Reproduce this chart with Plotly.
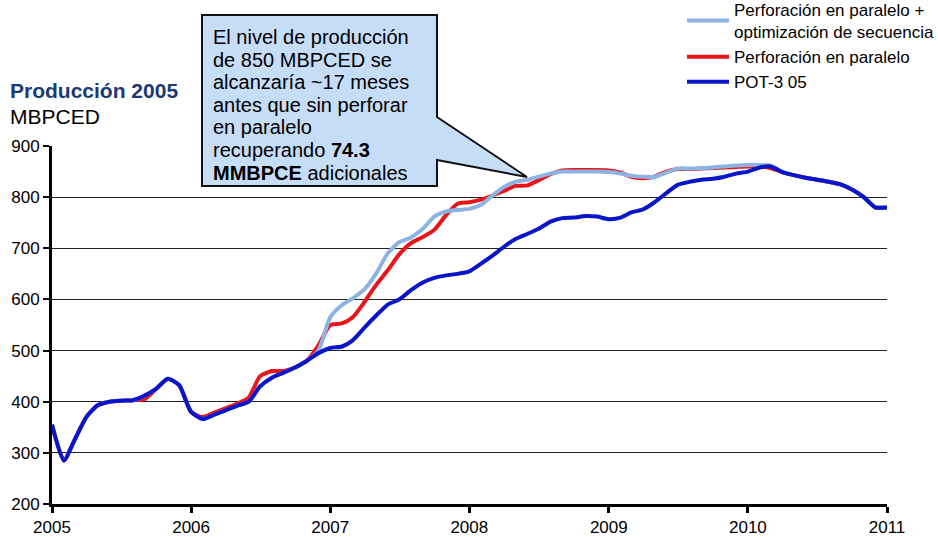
import pandas as pd
import plotly.graph_objects as go

# meses de ene-2005 a ene-2011
meses = pd.date_range("2005-01-01", "2011-01-01", freq="MS")

pot3 = [355, 285, 325, 370, 393, 400, 402, 403, 412, 425,
        445, 432, 380, 366, 374, 383, 392, 400, 430, 447,
        457, 467, 480, 495, 505, 508, 520, 545, 568, 590,
        600, 618, 633, 642, 647, 650, 655, 670, 685, 703,
        718, 728, 738, 752, 759, 760, 763, 762, 757, 760,
        770, 776, 790, 808, 824, 830, 834, 836, 840, 846,
        850, 858, 860, 849, 843, 838, 834, 830, 825, 815,
        800, 780, 780]

paralelo = [355, 285, 325, 370, 393, 400, 402, 403, 405, 425,
            445, 432, 380, 370, 378, 387, 396, 408, 450, 460,
            460, 467, 480, 510, 550, 553, 565, 595, 628, 657,
            688, 710, 722, 736, 765, 787, 790, 795, 803, 812,
            822, 823, 833, 845, 852, 853, 853, 853, 852, 848,
            840, 837, 840, 850, 855, 855, 856, 857, 858, 859,
            860, 860, 857, 849, 843, 838, 834, 830, 825, 815,
            800, 780, 780]

optimizado = [355, 285, 325, 370, 393, 400, 402, 403, 412, 425,
              445, 432, 380, 366, 374, 383, 392, 400, 430, 447,
              457, 467, 480, 500, 565, 589, 602, 620, 650, 690,
              712, 721, 738, 762, 772, 775, 777, 785, 803, 820,
              830, 834, 840, 846, 850, 850, 850, 850, 849, 846,
              842, 840, 840, 848, 856, 856, 857, 858, 860, 862,
              863, 863, 862, 850, 843, 838, 834, 830, 825, 815,
              800, 780, 780]

texto_caja = ["El nivel de producción",
              "de 850 MBPCED se",
              "alcanzaría ~17 meses",
              "antes que sin perforar",
              "en paralelo",
              "recuperando <b>74.3</b>",
              "<b>MMBPCE</b> adicionales"]

fuente = "Arial, Liberation Sans, sans-serif"

# conversion pixel de la imagen -> paper (area de trazado 52..887 x 146..504)
def px(x):
    return (x - 52) / 835

def py(y):
    return (504 - y) / 358

fig = go.Figure()

fig.add_trace(go.Scatter(x=meses, y=paralelo, name='Perforación en paralelo', legendrank=2,
                         mode='lines', line=dict(color='#E8161B', width=4, shape='spline', smoothing=0.6)))
fig.add_trace(go.Scatter(x=meses, y=optimizado, name='Perforación en paralelo +<br>optimización de secuencia',
                         legendrank=1, mode='lines',
                         line=dict(color='#8DB3E2', width=4, shape='spline', smoothing=0.6)))
fig.add_trace(go.Scatter(x=meses, y=pot3, name='POT-3 05', legendrank=3,
                         mode='lines', line=dict(color='#0A14C8', width=4, shape='spline', smoothing=0.6)))

# caja del comentario con su flecha
camino = "M {} {} L {} {} L {} {} L {} {} L {} {} L {} {} L {} {} Z".format(
    px(202), py(15), px(437), py(15), px(437), py(117), px(527), py(177),
    px(437), py(160), px(437), py(186), px(202), py(186))
fig.add_shape(type='path', path=camino, xref='paper', yref='paper',
              fillcolor='#C6DDF7', line=dict(color='#111111', width=2), layer='above')

for i, linea in enumerate(texto_caja):
    fig.add_annotation(x=px(211), y=py(37 + i * 22.6), xref='paper', yref='paper',
                       text=linea, showarrow=False, xanchor='left', yanchor='middle',
                       font=dict(family=fuente, size=20, color='black'))

fig.add_annotation(x=px(8), y=py(91), xref='paper', yref='paper', text='<b>Producción 2005</b>',
                   showarrow=False, xanchor='left', yanchor='middle',
                   font=dict(family=fuente, size=21, color='#1B3A73'))
fig.add_annotation(x=px(8), y=py(117), xref='paper', yref='paper', text='MBPCED',
                   showarrow=False, xanchor='left', yanchor='middle',
                   font=dict(family=fuente, size=21, color='black'))

fig.update_layout(
    width=938, height=537,
    margin=dict(l=52, r=51, t=146, b=33, autoexpand=False),
    paper_bgcolor='white', plot_bgcolor='white',
    font=dict(family=fuente, size=17, color='black'),
    legend=dict(x=px(682), y=py(-8), xanchor='left', yanchor='top', itemwidth=42,
                font=dict(size=17), bgcolor='rgba(0,0,0,0)', tracegroupgap=2),
    xaxis=dict(range=[meses[0], meses[-1]], dtick='M12', tickformat='%Y', automargin=False,
               showgrid=False, showline=True, linecolor='black', linewidth=3,
               ticks='outside', tickwidth=3, ticklen=6, tickcolor='black', zeroline=False),
    yaxis=dict(range=[200, 900], dtick=100, showgrid=True, gridcolor='#222222', gridwidth=1,
               automargin=False, showline=True, linecolor='black', linewidth=3,
               ticks='outside', tickwidth=2, ticklen=6, tickcolor='black', zeroline=False),
)

# quitar el margen de 8 px del body para que la figura ocupe toda la ventana
fig.write_html("out.html", config={'displayModeBar': False},
               post_script="document.body.style.margin='0px';")
